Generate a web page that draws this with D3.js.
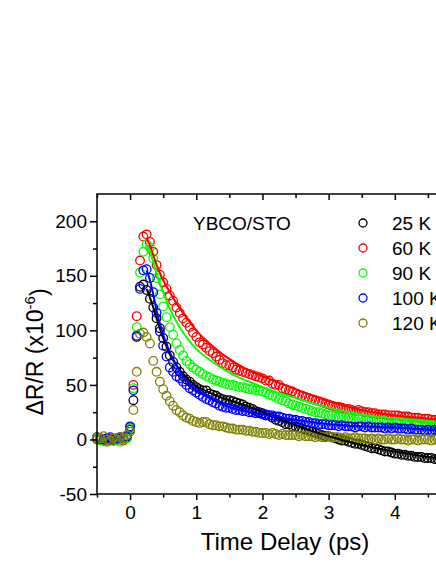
<!DOCTYPE html>
<html lang="en">
<head>
<meta charset="utf-8">
<title>YBCO/STO pump-probe</title>
<script src="https://d3js.org/d3.v7.min.js"></script>
<style>
body { margin: 0; background: white; }
svg { display: block; font-family: Arial, "Liberation Sans", sans-serif; }
.axis path { display: none; }
.axis line { stroke: black; stroke-width: 1.5px; }
.axis text { font-size: 19px; fill: black; }
</style>
</head>
<body>
<script>
// pump-probe delay (ps)
const delay = [-0.5, -0.45, -0.4, -0.35, -0.3, -0.25, -0.2, -0.15, -0.1, -0.05,
  0, 0.05, 0.1, 0.15, 0.2, 0.25, 0.3, 0.35, 0.4, 0.45,
  0.5, 0.55, 0.6, 0.65, 0.7, 0.75, 0.8, 0.85, 0.9, 0.95,
  1, 1.05, 1.1, 1.15, 1.2, 1.25, 1.3, 1.35, 1.4, 1.45,
  1.5, 1.55, 1.6, 1.65, 1.7, 1.75, 1.8, 1.85, 1.9, 1.95,
  2, 2.05, 2.1, 2.15, 2.2, 2.25, 2.3, 2.35, 2.4, 2.45,
  2.5, 2.55, 2.6, 2.65, 2.7, 2.75, 2.8, 2.85, 2.9, 2.95,
  3, 3.05, 3.1, 3.15, 3.2, 3.25, 3.3, 3.35, 3.4, 3.45,
  3.5, 3.55, 3.6, 3.65, 3.7, 3.75, 3.8, 3.85, 3.9, 3.95,
  4, 4.05, 4.1, 4.15, 4.2, 4.25, 4.3, 4.35, 4.4, 4.45,
  4.5, 4.55, 4.6, 4.65, 4.7];

// dR/R (x1e-6) for each temperature
const k25 = [1, 0, -1, 1, 0, -1, 0, 1, 0, 2,
  9, 36, 94, 140, 142, 137, 129, 121, 111, 102,
  93, 85, 77, 71, 66, 62, 58, 55, 53, 50,
  48, 46, 45, 45, 42, 41, 40, 38, 37, 36,
  36, 35, 34, 33, 32, 30, 29, 28, 26, 25,
  24, 22, 22, 20, 18, 17, 16, 14, 14, 12,
  12, 11, 10, 9, 8, 7, 6, 5, 4, 3,
  3, 2, 1, 0, -1, -1, -2, -3, -4, -4,
  -5, -6, -7, -8, -8, -9, -10, -11, -11, -12,
  -13, -13, -14, -14, -15, -15, -16, -16, -16, -17,
  -17, -17, -18, -18, -18];
const k60 = [0, 1, -1, -2, 0, -1, 1, 0, -1, 1,
  11, 50, 113, 164, 186, 188, 181, 172, 160, 151,
  144, 138, 132, 127, 121, 116, 111, 107, 103, 98,
  94, 89, 87, 84, 81, 79, 76, 73, 70, 68,
  68, 66, 64, 63, 62, 61, 60, 59, 58, 57,
  56, 54, 54, 51, 50, 50, 47, 46, 45, 44,
  42, 41, 40, 39, 38, 37, 36, 35, 34, 33,
  32, 31, 30, 30, 29, 28, 28, 27, 26, 27,
  26, 25, 25, 24, 24, 23, 23, 23, 22, 22,
  22, 22, 21, 21, 21, 20, 20, 20, 19, 19,
  19, 18, 18, 17, 17];
const k90 = [1, -1, 0, -2, -1, 0, -1, -2, 0, 1,
  10, 47, 103, 153, 172, 179, 176, 166, 148, 133,
  122, 112, 103, 96, 88, 82, 77, 72, 69, 66,
  64, 62, 60, 58, 57, 55, 54, 53, 52, 51,
  50, 50, 49, 48, 48, 47, 46, 46, 45, 45,
  44, 43, 41, 40, 39, 37, 36, 35, 33, 32,
  31, 30, 29, 28, 27, 26, 25, 25, 24, 23,
  22, 22, 21, 21, 20, 20, 20, 19, 19, 19,
  19, 18, 18, 18, 17, 17, 17, 17, 16, 16,
  16, 16, 16, 15, 15, 15, 15, 15, 14, 15,
  14, 14, 14, 14, 13];
const k100 = [2, 1, 0, 1, 2, 0, 1, 2, 1, 3,
  12, 45, 95, 138, 155, 156, 148, 135, 116, 99,
  86, 76, 66, 62, 58, 56, 53, 50, 47, 45,
  43, 41, 39, 37, 36, 34, 33, 31, 30, 29,
  29, 28, 27, 27, 26, 26, 25, 25, 24, 24,
  23, 23, 22, 22, 21, 21, 20, 19, 19, 18,
  18, 17, 17, 16, 16, 15, 15, 14, 14, 14,
  13, 13, 13, 12, 13, 12, 12, 12, 11, 12,
  12, 11, 12, 11, 11, 11, 11, 10, 11, 10,
  11, 10, 10, 10, 9, 10, 9, 9, 9, 8,
  9, 8, 9, 8, 8];
const k120 = [2, 1, 3, 0, -1, 1, 0, 2, 1, 4,
  7, 27, 62, 97, 98, 94, 88, 72, 62, 53,
  46, 40, 35, 31, 27, 25, 22, 20, 19, 17,
  16, 15, 16, 16, 14, 13, 13, 12, 12, 11,
  10, 10, 9, 9, 9, 8, 8, 7, 7, 6,
  6, 6, 5, 6, 5, 4, 5, 4, 4, 4,
  4, 3, 4, 3, 3, 3, 2, 3, 2, 2,
  3, 2, 2, 2, 1, 2, 1, 1, 2, 1,
  1, 1, 0, 1, 0, 1, 0, 0, 1, 0,
  0, 1, 0, 0, -1, 0, 0, -1, 0, 0,
  0, -1, 0, 0, -1];

// fitted decay curves
const fitDelay = [0.25, 0.3, 0.35, 0.4, 0.5, 0.6, 0.7, 0.8, 0.9, 1.0, 1.2, 1.4, 1.6, 1.8, 2.0, 2.5, 3.0, 3.5, 4.0, 4.5, 4.8];
const fit25 = [138, 130, 121, 111, 93, 78, 68, 60, 54, 49, 43, 38, 34, 30, 25, 13, 3, -5, -11, -16, -18];
const fit60 = [184, 178, 169, 160, 146, 135, 125, 116, 108, 100, 88, 78, 70, 63, 58, 46, 35, 27, 22, 19, 17];
const fit90 = [178, 172, 163, 152, 135, 120, 108, 98, 90, 83, 73, 65, 58, 53, 48, 38, 29, 23, 19, 16, 15];
const fit100 = [155, 146, 133, 118, 96, 80, 68, 58, 51, 45, 38, 32, 28, 25, 23, 18, 14, 12, 11, 9, 8];

const labels = ["25 K", "60 K", "90 K", "100 K", "120 K"];
const colors = ["#000000", "#ff0000", "#00ff00", "#0000ff", "#808000"];
const xTicks = [0, 1, 2, 3, 4];
const xMinor = [-0.5, 0.5, 1.5, 2.5, 3.5, 4.5];
const yTicks = [-50, 0, 50, 100, 150, 200];
const yMinor = [-25, 25, 75, 125, 175];

const series = [k25, k60, k90, k100, k120];
const fits = [fit25, fit60, fit90, fit100];

const width = 436, height = 564;
const margin = {left: 97, top: 194, right: 461, bottom: 494};

const svg = d3.select("body").append("svg")
    .attr("width", width)
    .attr("height", height);

const x = d3.scaleLinear().domain([-0.5, 5]).range([margin.left, margin.right]);
const y = d3.scaleLinear().domain([-50, 225]).range([margin.bottom, margin.top]);

// data circles
series.forEach((vals, s) => {
    svg.append("g")
        .selectAll("circle")
        .data(vals)
        .enter()
        .append("circle")
        .attr("cx", (d, i) => x(delay[i]))
        .attr("cy", d => y(d))
        .attr("r", 4.3)
        .attr("fill", "none")
        .attr("stroke", colors[s])
        .attr("stroke-width", 1.3);
});

// fit lines
const line = d3.line()
    .x((d, i) => x(fitDelay[i]))
    .y(d => y(d))
    .curve(d3.curveMonotoneX);
fits.forEach((vals, s) => {
    svg.append("path")
        .attr("d", line(vals))
        .attr("fill", "none")
        .attr("stroke", colors[s])
        .attr("stroke-width", 2);
});

// axes (plain hyphen for negatives, as in the original)
const plain = d => String(d);
svg.append("g").attr("class", "axis")
    .attr("transform", `translate(0,${margin.bottom})`)
    .call(d3.axisBottom(x).tickValues(xTicks).tickSize(6).tickPadding(6).tickFormat(plain));
svg.append("g").attr("class", "axis")
    .attr("transform", `translate(0,${margin.bottom})`)
    .call(d3.axisBottom(x).tickValues(xMinor).tickSize(3.5).tickFormat(""));
svg.append("g").attr("class", "axis")
    .attr("transform", `translate(0,${margin.top})`)
    .call(d3.axisTop(x).tickValues(xTicks).tickSize(-6).tickFormat(""));
svg.append("g").attr("class", "axis")
    .attr("transform", `translate(0,${margin.top})`)
    .call(d3.axisTop(x).tickValues(xMinor).tickSize(-4).tickFormat(""));
svg.append("g").attr("class", "axis")
    .attr("transform", `translate(${margin.left},0)`)
    .call(d3.axisLeft(y).tickValues(yTicks).tickSize(7).tickPadding(3).tickFormat(plain));
svg.append("g").attr("class", "axis")
    .attr("transform", `translate(${margin.left},0)`)
    .call(d3.axisLeft(y).tickValues(yMinor).tickSize(4).tickFormat(""));

// frame
svg.append("rect")
    .attr("x", margin.left)
    .attr("y", margin.top)
    .attr("width", margin.right - margin.left)
    .attr("height", margin.bottom - margin.top)
    .attr("fill", "none")
    .attr("stroke", "black")
    .attr("stroke-width", 1.5);

// axis titles
svg.append("text")
    .attr("x", 285)
    .attr("y", 550)
    .attr("text-anchor", "middle")
    .style("font-size", "24px")
    .text("Time Delay (ps)");

const yTitle = svg.append("text")
    .attr("transform", "translate(43,352) rotate(-90)")
    .attr("text-anchor", "middle")
    .style("font-size", "23px");
yTitle.append("tspan").text("\u0394R/R (x10");
yTitle.append("tspan").attr("dy", "-0.55em").style("font-size", "15px").text("-6");
yTitle.append("tspan").attr("dy", "0.55em").text(")");

// sample label
svg.append("text")
    .attr("x", 193)
    .attr("y", 230)
    .style("font-size", "19px")
    .text("YBCO/STO");

// legend
const legend = svg.append("g").attr("transform", "translate(363,223)");
labels.forEach((lab, i) => {
    legend.append("circle")
        .attr("cx", 0)
        .attr("cy", i * 25)
        .attr("r", 4)
        .attr("fill", "none")
        .attr("stroke", colors[i])
        .attr("stroke-width", 1.3);
    legend.append("text")
        .attr("x", 29)
        .attr("y", i * 25 + 7)
        .style("font-size", "19px")
        .text(lab);
});
</script>
</body>
</html>
